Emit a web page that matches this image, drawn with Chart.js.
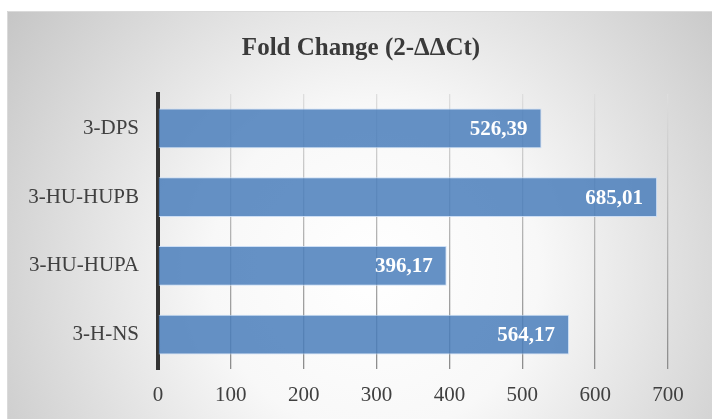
<!DOCTYPE html>
<html>
<head>
<meta charset="utf-8">
<script src="https://cdn.jsdelivr.net/npm/chart.js@4/dist/chart.umd.min.js"></script>
<style>
  html, body { margin: 0; padding: 0; background: #ffffff; }
  #wrap { width: 712px; height: 419px; position: relative; }
</style>
</head>
<body>
<div id="wrap"><canvas id="chart" width="712" height="419"></canvas></div>
<script>
// Samples and their relative expression
const categories = ['3-DPS', '3-HU-HUPB', '3-HU-HUPA', '3-H-NS'];
const foldChange = [526.39, 685.01, 396.17, 564.17];
const valueTicks = [0, 100, 200, 300, 400, 500, 600, 700];
const chartTitle = 'Fold Change (2-ΔΔCt)';

const SERIF = '"Liberation Serif", "Times New Roman", serif';
const TEXT_GREY = '#404040';

// Panel with a soft radial shading behind the chart, plus the heading
const panelBackground = {
  id: 'panelBackground',
  beforeDraw(chart) {
    const c = chart.ctx;
    const w = chart.width, h = chart.height;
    c.save();
    c.fillStyle = '#ffffff';
    c.fillRect(0, 0, w, h);
    const g = c.createRadialGradient(375, 270, 0, 375, 270, 470);
    g.addColorStop(0, '#ffffff');
    g.addColorStop(0.35, '#f8f8f8');
    g.addColorStop(1, '#c2c2c2');
    c.fillStyle = g;
    c.fillRect(7, 11, w - 7, h - 11);
    c.strokeStyle = '#dadada';
    c.lineWidth = 1;
    c.beginPath();
    c.moveTo(7.5, h);
    c.lineTo(7.5, 11.5);
    c.lineTo(w, 11.5);
    c.stroke();

    c.font = 'bold 25px ' + SERIF;
    c.fillStyle = '#3a3a3a';
    c.textAlign = 'center';
    c.textBaseline = 'middle';
    c.fillText(chartTitle, 361, 49);
    c.restore();
  }
};

// Value written inside the end of each bar
const barValueLabels = {
  id: 'barValueLabels',
  afterDatasetsDraw(chart) {
    const c = chart.ctx;
    const meta = chart.getDatasetMeta(0);
    const values = chart.data.datasets[0].data;
    c.save();
    c.font = 'bold 21px ' + SERIF;
    c.fillStyle = '#ffffff';
    c.textAlign = 'right';
    c.textBaseline = 'middle';
    meta.data.forEach((bar, i) => {
      const txt = values[i].toFixed(2).replace('.', ',');
      c.fillText(txt, bar.x - 14, bar.y + 1);
    });
    c.restore();
  }
};

function gridShade(ctx) {
  const chart = ctx.chart;
  const area = chart.chartArea;
  if (!area) return '#cccccc';
  const g = chart.ctx.createLinearGradient(0, area.top, 0, area.bottom);
  g.addColorStop(0, '#dedede');
  g.addColorStop(0.5, '#b4b4b4');
  g.addColorStop(1, '#8c8c8c');
  return g;
}

new Chart(document.getElementById('chart'), {
  type: 'bar',
  data: {
    labels: categories,
    datasets: [{
      data: foldChange,
      backgroundColor: 'rgba(74, 126, 187, 0.85)',
      borderColor: 'rgba(200, 220, 245, 0.9)',
      borderWidth: 1,
      categoryPercentage: 1.0,
      barPercentage: 0.58
    }]
  },
  options: {
    indexAxis: 'y',
    responsive: false,
    animation: false,
    events: [],
    layout: { padding: { left: 8, right: 44, top: 94, bottom: 0 } },
    plugins: {
      legend: { display: false },
      tooltip: { enabled: false },
      title: { display: false }
    },
    scales: {
      x: {
        min: 0,
        max: 700,
        afterBuildTicks(scale) {
          scale.ticks = valueTicks.map(v => ({ value: v }));
        },
        afterFit(scale) { scale.height = 50; },
        grid: {
          display: true,
          drawTicks: false,
          color: gridShade,
          lineWidth: 1.3
        },
        border: { display: false },
        ticks: {
          padding: 14,
          color: TEXT_GREY,
          font: { family: SERIF, size: 21 },
          maxRotation: 0
        }
      },
      y: {
        afterFit(scale) { scale.width = 150; },
        grid: { display: false, drawTicks: false },
        border: { display: true, color: '#333333', width: 4 },
        ticks: {
          padding: 19,
          color: TEXT_GREY,
          font: { family: SERIF, size: 21 }
        }
      }
    }
  },
  plugins: [panelBackground, barValueLabels]
});
</script>
</body>
</html>
